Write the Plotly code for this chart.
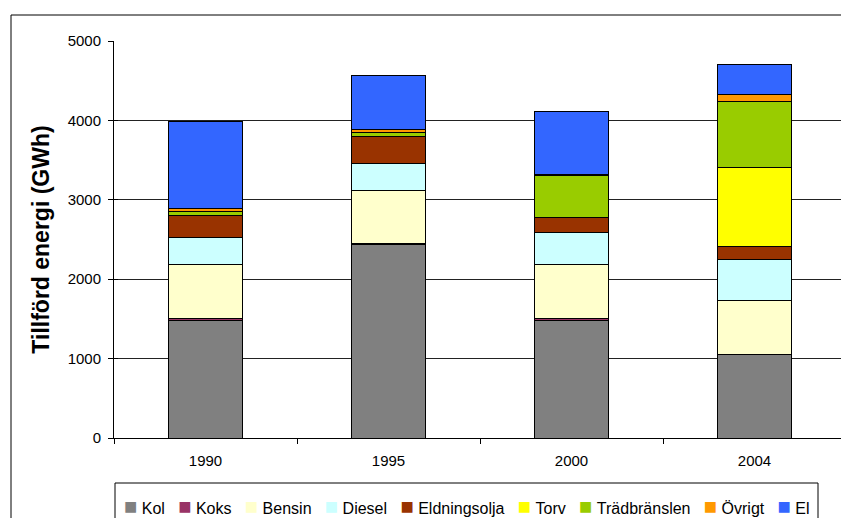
import plotly.graph_objects as go

years = ["1990", "1995", "2000", "2004"]
series_names = ["Kol", "Koks", "Bensin", "Diesel", "Eldningsolja", "Torv", "Trädbränslen", "Övrigt", "El"]
colors = ["#808080", "#993366", "#FFFFCC", "#CCFFFF", "#993300", "#FFFF00", "#99CC00", "#FF9900", "#3366FF"]

kol = [1480, 2440, 1486, 1054]
koks = [20, 5, 25, 0]
bensin = [680, 678, 668, 684]
diesel = [345, 328, 407, 512]
eldningsolja = [280, 340, 197, 160]
torv = [0, 0, 0, 999]
tradbranslen = [45, 60, 517, 827]
ovrigt = [40, 33, 21, 92]
el = [1090, 676, 789, 382]

values = [kol, koks, bensin, diesel, eldningsolja, torv, tradbranslen, ovrigt, el]

fig = go.Figure()
for name, col, vals in zip(series_names, colors, values):
    fig.add_trace(go.Bar(
        x=years, y=vals, name=name,
        marker=dict(color=col, line=dict(color="#000000", width=1)),
        showlegend=False,
    ))

# page body has an 8px margin; work in screen coordinates
OFF = 8
W, H = 849 - OFF, 518 - OFF
PL, PR, PT, PB = 114, 846, 41, 438   # plot area in screen px
L, R, T, B = PL - OFF, W - (PR - OFF), PT - OFF, H - (PB - OFF)
pw = PR - PL
ph = PB - PT

def px(sx):
    return (sx - PL) / pw

def py(sy):
    return (PB - sy) / ph

# legend built from the series names and colours
sq = '<span style="font-size:22px;color:{c}">■</span>&nbsp;{n}'
legend_text = "&nbsp;&nbsp;&nbsp;".join(sq.format(c=c, n=n) for n, c in zip(series_names, colors))

fig.update_layout(
    width=W, height=H,
    barmode="stack",
    bargap=0.6,
    margin=dict(l=L, r=R, t=T, b=B, pad=0),
    paper_bgcolor="white",
    plot_bgcolor="white",
    font=dict(family="Liberation Sans, Arial", size=15, color="#000000"),
    showlegend=False,
    xaxis=dict(
        type="category",
        showline=True, linecolor="#000000", linewidth=1,
        ticks="outside", ticklen=5, tickcolor="#000000",
        tickson="boundaries",
        showgrid=False,
        tickfont=dict(size=15),
        ticklabelstandoff=9,
    ),
    yaxis=dict(
        range=[0, 5000],
        tickvals=[0, 1000, 2000, 3000, 4000, 5000],
        showline=True, linecolor="#000000", linewidth=1,
        ticks="outside", ticklen=5, tickcolor="#000000",
        showgrid=True, gridcolor="#222222", gridwidth=1,
        tickfont=dict(size=15),
        ticklabelstandoff=4,
        title=dict(text="<b>Tillförd energi (GWh)</b>", font=dict(size=23), standoff=11),
        zeroline=False,
    ),
    yaxis2=dict(
        range=[0, 5000], overlaying="y", side="left",
        tickvals=[0, 1000, 2000, 3000, 4000, 5000],
        ticks="inside", ticklen=4, tickcolor="#000000",
        showticklabels=False, showgrid=False, zeroline=False, showline=False,
    ),
    annotations=[
        dict(xref="paper", yref="paper", x=px(466.5), y=py(506),
             xanchor="center", yanchor="middle", showarrow=False,
             text=legend_text, font=dict(size=16)),
    ],
    shapes=[
        dict(type="rect", xref="paper", yref="paper",
             x0=px(11), x1=px(847), y0=py(530), y1=py(15),
             line=dict(color="#000000", width=1), fillcolor="rgba(0,0,0,0)", layer="below"),
        dict(type="rect", xref="paper", yref="paper",
             x0=px(115), x1=px(818), y0=py(530), y1=py(483),
             line=dict(color="#000000", width=1), fillcolor="white", layer="below"),
    ],
)
# invisible trace to carry the secondary axis ticks
fig.add_trace(go.Scatter(x=years, y=[None] * len(years), yaxis="y2", showlegend=False, hoverinfo="skip"))

fig.write_html("out.html")
